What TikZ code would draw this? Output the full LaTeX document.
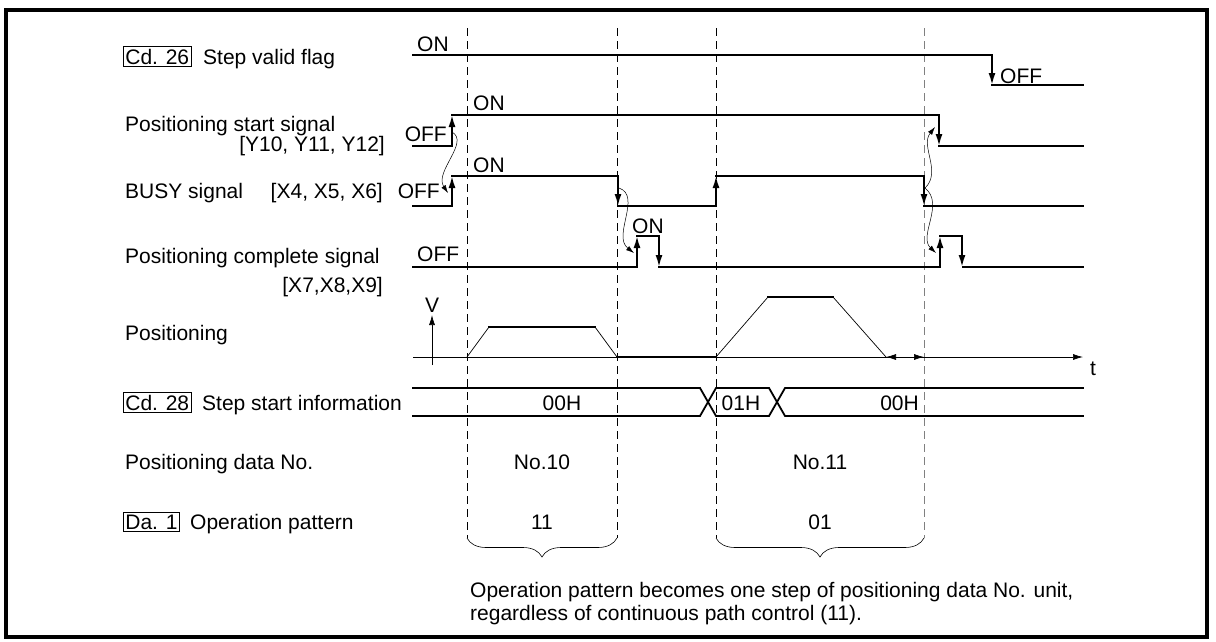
\documentclass[tikz,border=0pt]{standalone}
\usepackage{fontspec}
\setmainfont{Liberation Sans}
\usetikzlibrary{arrows.meta,positioning,decorations.pathreplacing}
\begin{document}
\begin{tikzpicture}[x=1pt,y=-1pt,
  lbl/.style={font=\fontsize{21}{25}\selectfont, inner sep=0pt},
  refbox/.style={lbl, draw, line width=0.7pt, inner xsep=2pt, inner ysep=2.5pt},
  sig/.style={line width=1.8pt, line cap=rect},
  edge/.style={sig, -{Latex[length=12pt,width=7pt]}},
  cause/.style={line width=0.5pt, -{Latex[length=8pt,width=5pt]}},
  axis/.style={line width=0.7pt},
  guide/.style={line width=0.8pt, dash pattern=on 8pt off 5pt},
  groupbrace/.style={line width=0.6pt, decorate, decoration={brace, mirror, amplitude=19pt}}]
\useasboundingbox (0,0) rectangle (1216,641);
\draw[line width=3.5pt] (6,10) rectangle (1207,637);

\foreach \gx in {467,617,716} \draw[guide] (\gx,28) -- (\gx,538);
\draw[guide, gray] (924,28) -- (924,538);

\node[refbox, anchor=base west] (cd26) at (123,64) {Cd. 26};
\node[lbl, anchor=base west] (validlbl) at (203,64) {Step valid flag};
\node[lbl, anchor=base west] (validon) at (417,51) {ON};
\node[lbl, anchor=base west] (validoff) at (1000,83) {OFF};
\draw[sig] (413,55) -- (992,55);
\draw[edge] (992,55) -- (992,85);
\draw[sig] (992,85) -- (1083,85);

\node[lbl, anchor=base west] (startlbl) at (125,131) {Positioning start signal};
\node[lbl, anchor=base east] (startdev) at (385,151) {[Y10, Y11, Y12]};
\node[lbl, anchor=base east] (startoff) at (447,141) {OFF};
\node[lbl, anchor=base west] (starton) at (473,110) {ON};
\draw[sig] (413,146) -- (452,146);
\draw[edge] (452,146) -- (452,115);
\draw[sig] (452,115) -- (939,115);
\draw[edge] (939,115) -- (939,146);
\draw[sig] (939,146) -- (1083,146);

\node[lbl, anchor=base west] (busylbl) at (125,198) {BUSY signal};
\node[lbl, anchor=base east] (busydev) at (383,198) {[X4, X5, X6]};
\node[lbl, anchor=base east] (busyoff) at (440,198) {OFF};
\node[lbl, anchor=base west] (busyon) at (473,172) {ON};
\draw[sig] (413,206) -- (452,206);
\draw[edge] (452,206) -- (452,176);
\draw[sig] (452,176) -- (618,176);
\draw[edge] (618,176) -- (618,206);
\draw[sig] (618,206) -- (716,206);
\draw[edge] (716,206) -- (716,176);
\draw[sig] (716,176) -- (924,176);
\draw[edge] (924,176) -- (924,206);
\draw[sig] (924,206) -- (1083,206);

\node[lbl, anchor=base west] (donelbl) at (125,263) {Positioning complete signal};
\node[lbl, anchor=base east] (donedev) at (383,292) {[X7,X8,X9]};
\node[lbl, anchor=base west] (doneoff) at (417,261) {OFF};
\node[lbl, anchor=base west] (doneon) at (632,233) {ON};
\draw[sig] (413,267) -- (637,267) (659,267) -- (940,267) (963,267) -- (1083,267);
\foreach \px in {637,940} {
  \draw[edge] (\px,267) -- (\px,236);
  \draw[sig] (\px,236) -- (\px+22,236);
  \draw[edge] (\px+22,236) -- (\px+22,267);
}

\coordinate (s1) at (452,132);
\coordinate (b1) at (448,193);
\coordinate (b2) at (619,188);
\coordinate (c2) at (634,253);
\coordinate (b3) at (925,188);
\coordinate (s3) at (935,127);
\coordinate (c3) at (936,253);
\draw[cause] (s1) .. controls (470,142) and (434,172) .. (b1);
\draw[cause] (b2) .. controls (642,196) and (612,236) .. (c2);
\draw[cause] (b3) .. controls (942,172) and (920,146) .. (s3);
\draw[cause] (b3) .. controls (945,204) and (918,236) .. (c3);

\node[lbl, anchor=base west] (poslbl) at (125,340) {Positioning};
\node[lbl, anchor=base] (vlbl) at (432,312) {V};
\node[lbl, anchor=base] (tlbl) at (1093,375) {t};
\draw[axis, -{Latex[length=10pt,width=6pt]}] (413,357) -- (1083,357);
\draw[axis, -{Latex[length=10pt,width=6pt]}] (432,365) -- (432,315);
\draw[axis] (467,357) -- (489,327) (595,327) -- (617,357) (716,357) -- (768,297) (833,297) -- (886,357);
\draw[sig] (489,327) -- (595,327) (617,357) -- (716,357) (768,297) -- (833,297);
\draw[axis, {Latex[length=10pt,width=6pt]}-{Latex[length=10pt,width=6pt]}] (886,357) -- (924,357);

\node[refbox, anchor=base west] (cd28) at (123,410) {Cd. 28};
\node[lbl, anchor=base west] (infolbl) at (202,410) {Step start information};
\node[lbl, anchor=base] (info1) at (562,410) {00H};
\node[lbl, anchor=base] (info2) at (741,410) {01H};
\node[lbl, anchor=base east] (info3) at (919,410) {00H};
\draw[sig] (413,388) -- (700,388) -- (716,416) -- (769,416) -- (785,388) -- (1083,388);
\draw[sig] (413,416) -- (700,416) -- (716,388) -- (769,388) -- (785,416) -- (1083,416);

\node[lbl, anchor=base west] (datalbl) at (125,469) {Positioning data No.};
\node[lbl, anchor=base] (data1) at (542,469) {No.10};
\node[lbl, anchor=base] (data2) at (820,469) {No.11};

\node[refbox, anchor=base west] (da1) at (123,529) {Da. 1};
\node[lbl, anchor=base west] (patlbl) at (190,529) {Operation pattern};
\node[lbl, anchor=base] (pat1) at (542,529) {11};
\node[lbl, anchor=base] (pat2) at (820,529) {01};

\draw[groupbrace] (467,538) -- (617,538);
\draw[groupbrace] (716,538) -- (924,538);
\node[lbl, anchor=base west] (note1) at (470,597) {Operation pattern becomes one step of positioning data No. unit,};
\node[lbl, anchor=base west] (note2) at (470,620) {regardless of continuous path control (11).};
\end{tikzpicture}
\end{document}
